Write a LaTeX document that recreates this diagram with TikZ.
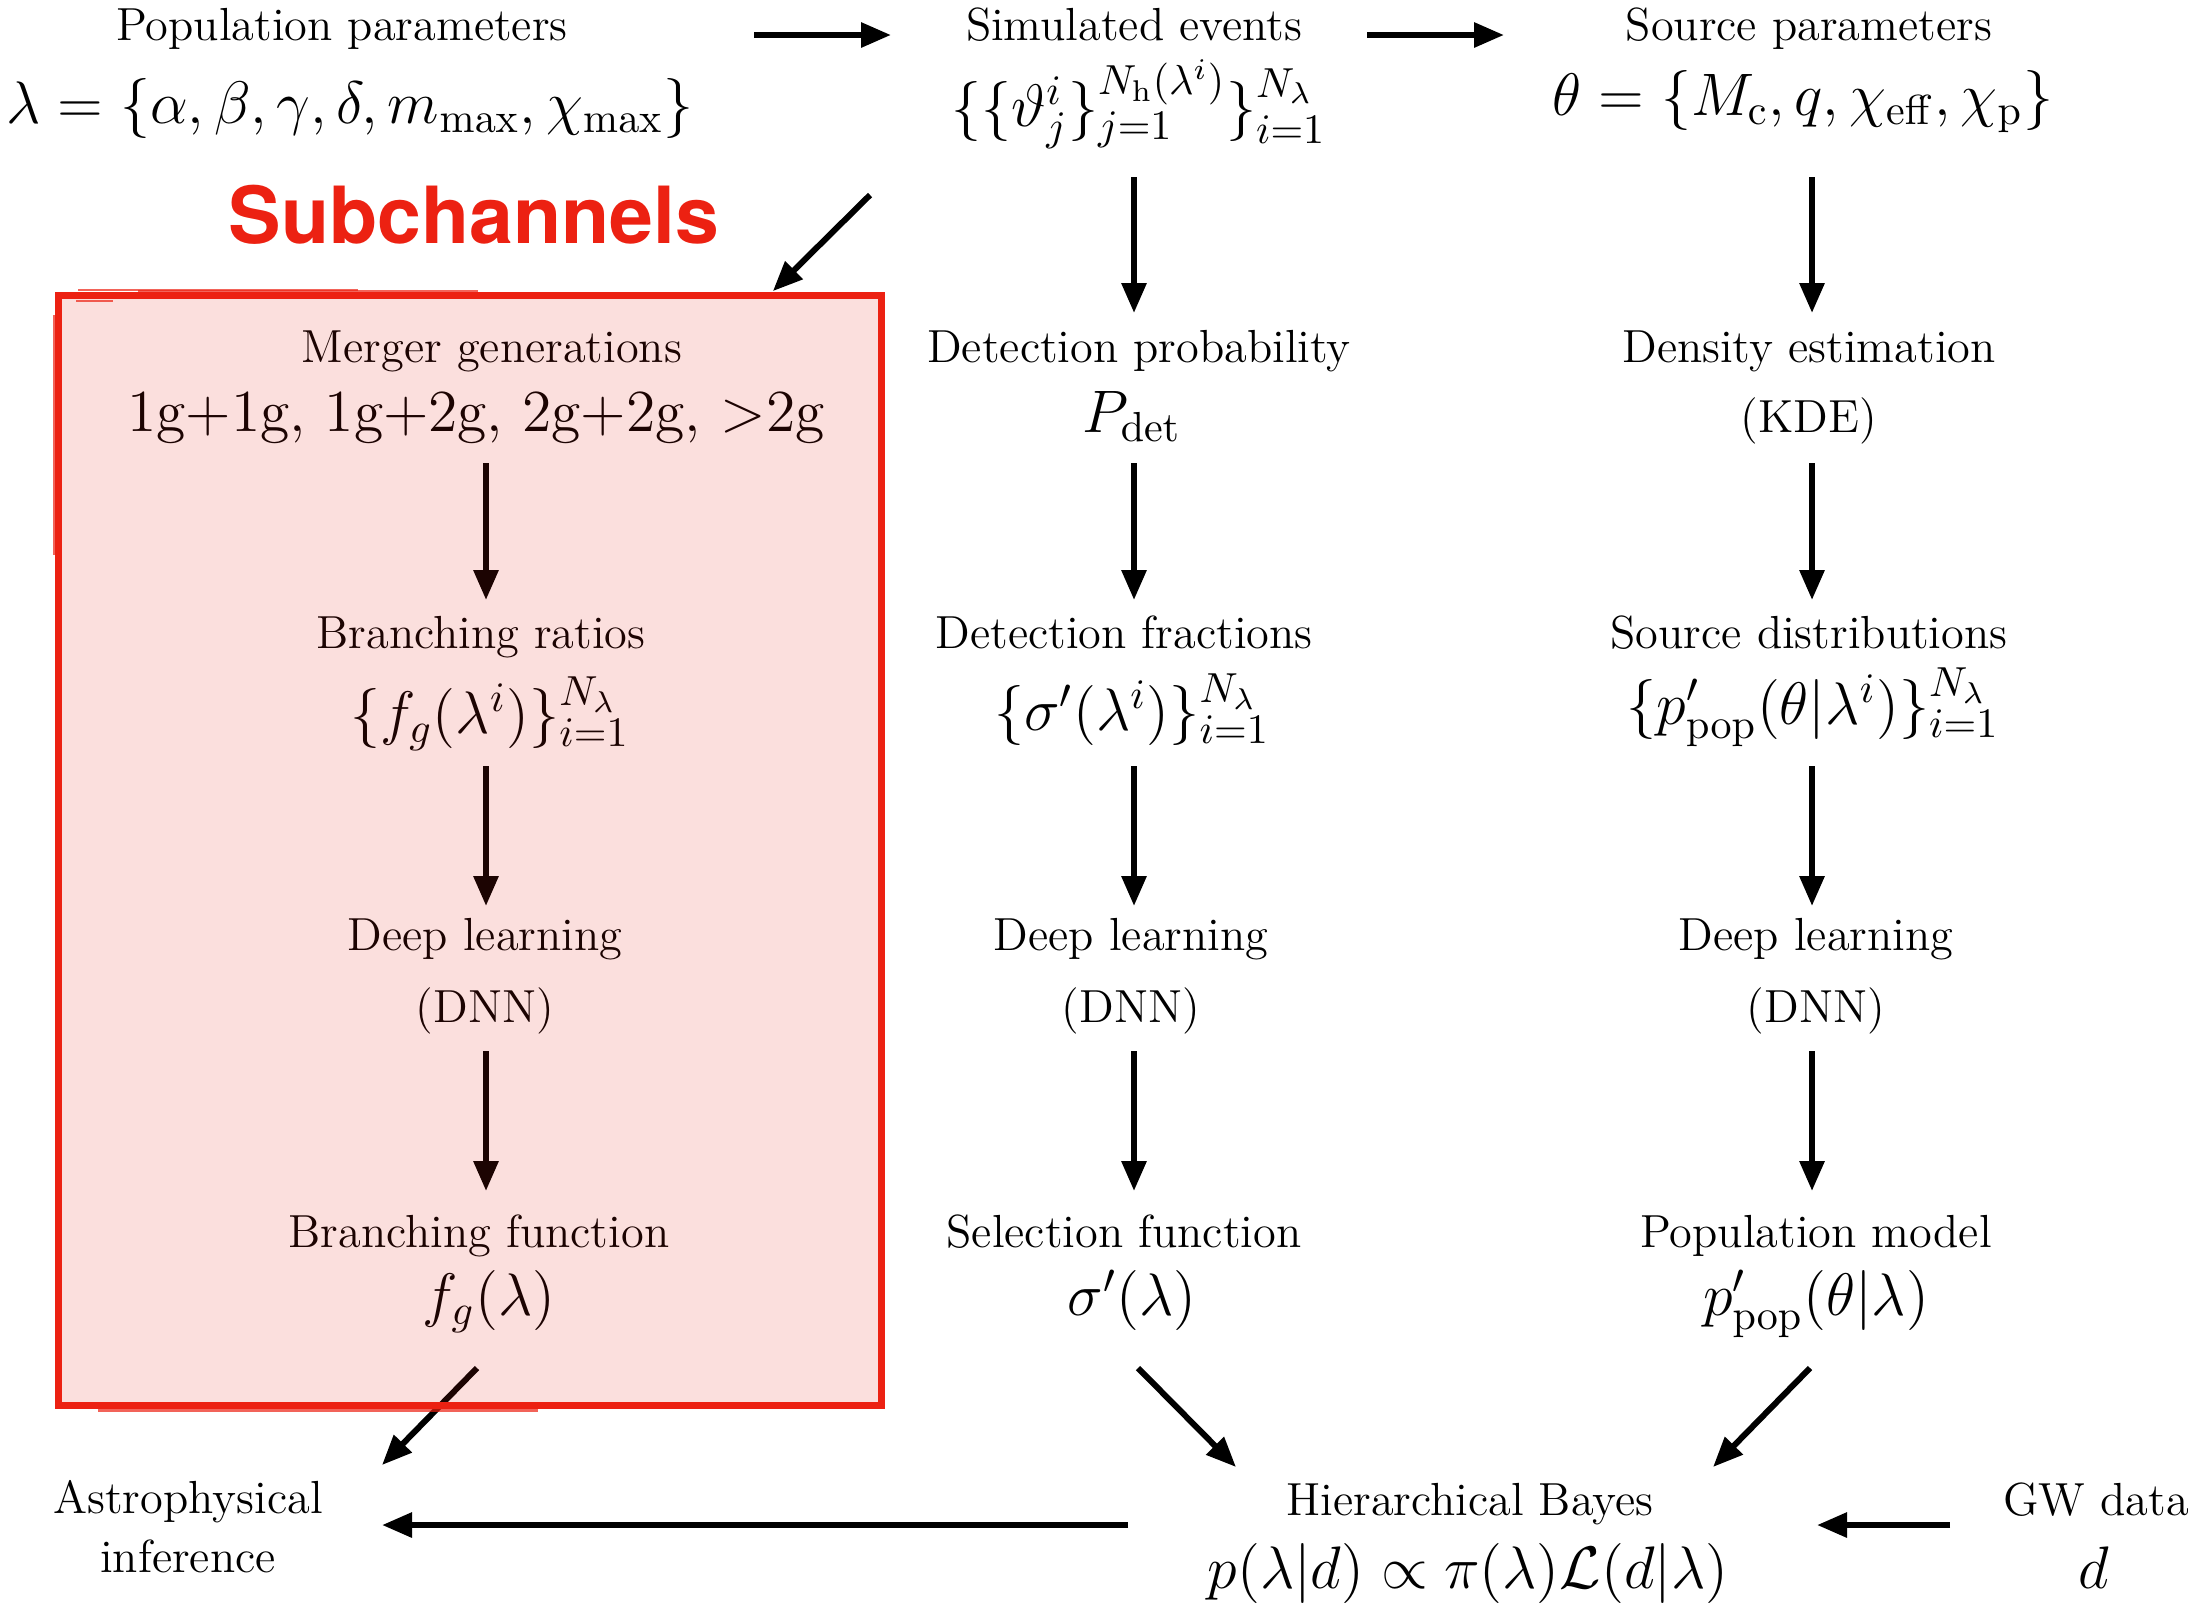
\RequirePackage{fix-cm}
\documentclass[tikz,border=0pt]{standalone}
\usepackage[no-math]{fontspec}
\newfontfamily\helvfont{TeX Gyre Heros}
\usetikzlibrary{arrows.meta}
\definecolor{subred}{RGB}{236,33,18}
\definecolor{pinkbase}{RGB}{254,250,250}
\begin{document}
\begin{tikzpicture}[x=0.25pt,y=-0.25pt,
  lbl/.style={font=\fontsize{11.6}{13.9}\selectfont, anchor=base, inner sep=0pt},
  frm/.style={font=\fontsize{15}{18}\selectfont, anchor=base, inner sep=0pt},
  bigtext/.style={font=\fontencoding{OT1}\fontfamily{cmr}\fontsize{14.9}{18}\selectfont, anchor=base, inner sep=0pt},
  subtitle/.style={font=\helvfont\bfseries\fontsize{19.7}{23}\selectfont, text=subred, anchor=base, inner sep=0pt},
  arr/.style={-{Triangle[length=7.5pt,width=6pt]}, line width=1.5pt, black},
  sketch/.style={subred, line width=0.6pt, opacity=0.7}
]
\useasboundingbox (0,0) rectangle (2192,1608);

% subchannel box background
\node[fill=pinkbase, draw=none, inner sep=0pt, minimum width=205.5pt, minimum height=277.25pt] (box) at (470,850.5) {};

% top row
\node[lbl] (pp) at (342,40) {Population parameters};
\node[frm] (lam) at (350,123) {$\lambda=\{\alpha,\beta,\gamma,\delta,m_{\max},\chi_{\max}\}$};
\node[lbl] (se) at (1134,40) {Simulated events};
\node[frm] (sev) at (1139,126) {$\big\{\{\vartheta^i_j\}_{j=1}^{N_{\mathrm{h}}(\lambda^i)}\big\}_{i=1}^{N_\lambda}$};
\node[lbl] (sp) at (1809,40) {Source parameters};
\node[frm] (th) at (1803,115) {$\theta=\{M_{\mathrm{c}},q,\chi_{\mathrm{eff}},\chi_{\mathrm{p}}\}$};
\node[subtitle] (subc) at (474,243) {Subchannels};

% left column
\node[lbl] (mg) at (492,362) {Merger generations};
\node[bigtext] (gen) at (476,431) {1g+1g, 1g+2g, 2g+2g, $>$2g};
\node[lbl] (br) at (481,648) {Branching ratios};
\node[frm] (brs) at (490,733) {$\{f_g(\lambda^i)\}_{i=1}^{N_\lambda}$};
\node[lbl] (dlL) at (485,950) {Deep learning};
\node[lbl] (dnnL) at (485,1022) {(DNN)};
\node[lbl] (bf) at (479,1247) {Branching function};
\node[frm] (fgl) at (489,1315) {$f_g(\lambda)$};

% middle column
\node[lbl] (dp) at (1139,362) {Detection probability};
\node[frm] (pdet) at (1132,432) {$P_{\mathrm{det}}$};
\node[lbl] (df) at (1124,648) {Detection fractions};
\node[frm] (sfs) at (1132,730) {$\{\sigma'(\lambda^i)\}_{i=1}^{N_\lambda}$};
\node[lbl] (dlM) at (1131,950) {Deep learning};
\node[lbl] (dnnM) at (1131,1022) {(DNN)};
\node[lbl] (sf) at (1124,1247) {Selection function};
\node[frm] (sig) at (1132,1315) {$\sigma'(\lambda)$};

% right column
\node[lbl] (de) at (1809,362) {Density estimation};
\node[lbl] (kde) at (1809,432) {(KDE)};
\node[lbl] (sd) at (1809,648) {Source distributions};
\node[frm] (pps) at (1813,724) {$\{p'_{\mathrm{pop}}(\theta|\lambda^i)\}_{i=1}^{N_\lambda}$};
\node[lbl] (dlR) at (1816,950) {Deep learning};
\node[lbl] (dnnR) at (1816,1022) {(DNN)};
\node[lbl] (pm) at (1816,1247) {Population model};
\node[frm] (ppl) at (1816,1315) {$p'_{\mathrm{pop}}(\theta|\lambda)$};

% bottom row
\node[lbl] (as1) at (188,1513) {Astrophysical};
\node[lbl] (as2) at (188,1572) {inference};
\node[lbl] (hb) at (1470,1515) {Hierarchical Bayes};
\node[frm] (hbf) at (1468,1588) {$p(\lambda|d)\propto\pi(\lambda)\mathcal{L}(d|\lambda)$};
\node[lbl] (gw) at (2096,1515) {GW data};
\node[frm] (gwd) at (2094,1588) {$d$};

% horizontal top arrows
\draw[arr] ([shift={(412,-5)}]pp.base) -- ([shift={(-243,-5)}]se.base);
\draw[arr] ([shift={(233,-5)}]se.base) -- ([shift={(-305,-5)}]sp.base);

% vertical arrows left
\draw[arr] ([shift={(10,32)}]gen.base) -- ([shift={(5,-48)}]br.base);
\draw[arr] ([shift={(-4,33)}]brs.base) -- ([shift={(1,-44)}]dlL.base);
\draw[arr] ([shift={(1,29)}]dnnL.base) -- ([shift={(7,-56)}]bf.base);
% middle
\draw[arr] ([shift={(-5,51)}]sev.base) -- ([shift={(-5,-49)}]dp.base);
\draw[arr] ([shift={(2,31)}]pdet.base) -- ([shift={(10,-48)}]df.base);
\draw[arr] ([shift={(2,36)}]sfs.base) -- ([shift={(3,-44)}]dlM.base);
\draw[arr] ([shift={(3,29)}]dnnM.base) -- ([shift={(10,-56)}]sf.base);
% right
\draw[arr] ([shift={(9,62)}]th.base) -- ([shift={(3,-49)}]de.base);
\draw[arr] ([shift={(3,31)}]kde.base) -- ([shift={(3,-48)}]sd.base);
\draw[arr] ([shift={(-1,42)}]pps.base) -- ([shift={(-4,-44)}]dlR.base);
\draw[arr] ([shift={(-4,29)}]dnnR.base) -- ([shift={(-4,-56)}]pm.base);

% diagonals
\draw[arr] ([shift={(520,72)}]lam.base) -- ([shift={(-109,-4)}]box.north east);
\draw[arr] ([shift={(-12,53)}]fgl.base) -- ([shift={(194,-48)}]as1.base);
\draw[arr] ([shift={(6,53)}]sig.base) -- ([shift={(-234,-48)}]hb.base);
\draw[arr] ([shift={(-6,53)}]ppl.base) -- ([shift={(243,-48)}]hb.base);

% bottom horizontals
\draw[arr] ([shift={(-342,10)}]hb.base) -- ([shift={(194,12)}]as1.base);
\draw[arr] ([shift={(-146,10)}]gw.base) -- ([shift={(347,10)}]hb.base);

% tint and border of subchannel box
\fill[subred, opacity=0.12] (box.south west) rectangle (box.north east);
\draw[subred, line width=1.75pt] (box.south west) rectangle (box.north east);
\draw[sketch] ([shift={(20,-5)}]box.north west) -- ([shift={(300,-5)}]box.north west);
\draw[sketch] ([shift={(80,-4)}]box.north west) -- ([shift={(420,-4)}]box.north west);
\draw[sketch] ([shift={(18,6)}]box.north west) -- ([shift={(55,6)}]box.north west);
\draw[sketch] ([shift={(40,4.5)}]box.south west) -- ([shift={(480,4.5)}]box.south west);
\draw[sketch] ([shift={(-4.5,20)}]box.north west) -- ([shift={(-4.5,260)}]box.north west);
\end{tikzpicture}
\end{document}
